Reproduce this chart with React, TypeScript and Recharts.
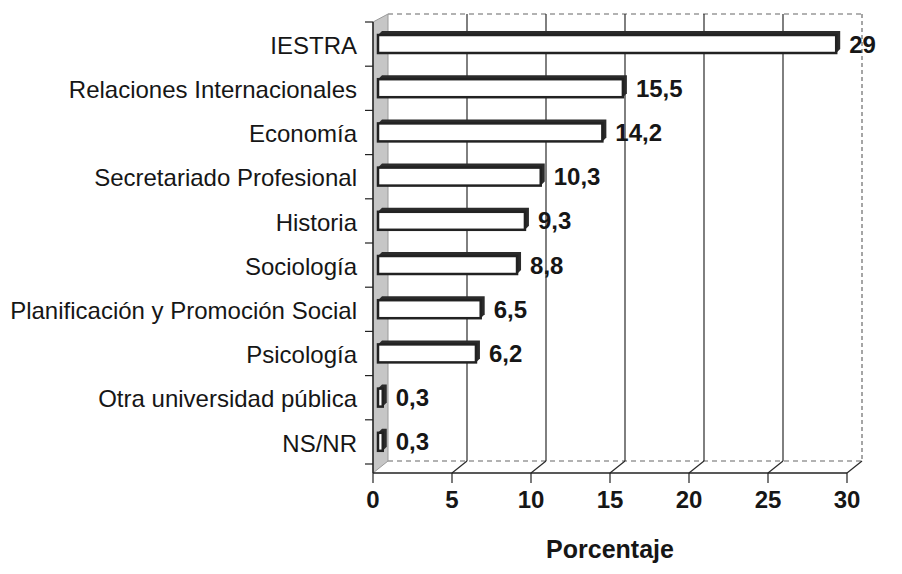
import { BarChart, Bar, XAxis, YAxis, CartesianGrid, LabelList } from 'recharts';

const carreras = [
  'IESTRA',
  'Relaciones Internacionales',
  'Economía',
  'Secretariado Profesional',
  'Historia',
  'Sociología',
  'Planificación y Promoción Social',
  'Psicología',
  'Otra universidad pública',
  'NS/NR',
];
const porcentajes = [29, 15.5, 14.2, 10.3, 9.3, 8.8, 6.5, 6.2, 0.3, 0.3];
const xTicks = [0, 5, 10, 15, 20, 25, 30];

const data = carreras.map((carrera, i) => ({ carrera, porcentaje: porcentajes[i] }));

const FONT = '"Liberation Sans", Arial, sans-serif';
const INK = '#161616';
// 3D depth of the back wall
const DX = 15;
const DY = 12;

const fmt = (v: any) => String(v).replace('.', ',');

const Bar3D = (props: any) => {
  const { y, width, height } = props;
  const x = props.x + 5;
  const d = 4;
  return (
    <g>
      <path
        d={`M${x},${y} L${x + d},${y - d} L${x + width + d},${y - d} L${x + width + d},${y + height - d} L${x + width},${y + height} Z`}
        fill="#2b2b2b"
      />
      <rect x={x} y={y} width={width} height={height} fill="#fff" stroke="#222" strokeWidth={2.5} />
    </g>
  );
};

const verticalLine = (props: any) => {
  const { x1, y1, y2, index } = props;
  const bx = x1 + DX;
  if (index === 0) {
    return (
      <g key={`v${index}`}>
        <path
          d={`M${x1},${y1} L${bx},${y1 - 8} L${bx},${y2 - DY} L${x1},${y2} Z`}
          fill="#c6c6c6"
          stroke="#9a9a9a"
          strokeWidth={1}
        />
      </g>
    );
  }
  const last = index === xTicks.length - 1;
  return (
    <g key={`v${index}`}>
      <line
        x1={bx}
        y1={y1 - 8}
        x2={bx}
        y2={y2 - DY}
        stroke={last ? '#888' : '#2a2a2a'}
        strokeWidth={last ? 1.5 : 1.2}
        strokeDasharray={last ? '4 3' : undefined}
      />
      <line x1={x1} y1={y2} x2={bx} y2={y2 - DY} stroke="#2a2a2a" strokeWidth={1.2} />
    </g>
  );
};

const horizontalLine = (props: any) => {
  const { x1, x2, y1, index } = props;
  if (index === carreras.length) {
    return (
      <line key={`h${index}`} x1={x1 + DX} y1={y1 - 8} x2={x2 + DX} y2={y1 - 8} stroke="#999" strokeWidth={1.5} strokeDasharray="5 4" />
    );
  }
  if (index === carreras.length + 1) {
    return (
      <line key={`h${index}`} x1={x1 + DX} y1={y1 - DY} x2={x2 + DX} y2={y1 - DY} stroke="#999" strokeWidth={1.5} strokeDasharray="5 4" />
    );
  }
  return <g key={`h${index}`} />;
};

const CatTick = (props: any) => {
  const { x, y, payload, index } = props;
  const half = payload.offset ?? 22;
  const ax = x + 16;
  return (
    <g>
      <text x={x} y={y} dy="0.4em" textAnchor="end" fill={INK} fontSize={24} fontFamily={FONT}>
        {payload.value}
      </text>
      <line x1={ax - 8} y1={y - half} x2={ax} y2={y - half} stroke="#222" strokeWidth={1.2} />
      {index === carreras.length - 1 && (
        <line x1={ax - 8} y1={y + half} x2={ax} y2={y + half} stroke="#222" strokeWidth={1.2} />
      )}
    </g>
  );
};

export default function App() {
  return (
    <div style={{ position: 'absolute', left: 0, top: 0, width: 902, height: 574, background: '#fff' }}>
      <BarChart
        width={902}
        height={574}
        data={data}
        layout="vertical"
        margin={{ top: 22, right: 55, bottom: 0, left: 0 }}
        barCategoryGap={0}
      >
        <CartesianGrid vertical={verticalLine} horizontal={horizontalLine} />
        <XAxis
          type="number"
          domain={[0, 30]}
          ticks={xTicks}
          height={101}
          tickSize={10}
          tickMargin={8}
          axisLine={{ stroke: '#222', strokeWidth: 1.5 }}
          tickLine={{ stroke: '#222', strokeWidth: 1.2 }}
          tick={{ fontSize: 24, fontWeight: 700, fill: INK, fontFamily: FONT }}
          label={{
            value: 'Porcentaje',
            position: 'insideBottom',
            offset: 16,
            style: { fontSize: 25, fontWeight: 700, fill: INK, fontFamily: FONT },
          }}
        />
        <YAxis
          type="category"
          dataKey="carrera"
          width={373}
          padding={{ top: 0, bottom: 9 }}
          tickSize={8}
          tickMargin={8}
          tickLine={false}
          axisLine={{ stroke: '#222', strokeWidth: 1.5 }}
          tick={<CatTick />}
          interval={0}
        />
        <Bar dataKey="porcentaje" barSize={18} shape={<Bar3D />} isAnimationActive={false}>
          <LabelList
            dataKey="porcentaje"
            position="right"
            offset={18}
            formatter={fmt}
            style={{ fontSize: 24, fontWeight: 700, fill: INK, fontFamily: FONT }}
          />
        </Bar>
      </BarChart>
    </div>
  );
}
